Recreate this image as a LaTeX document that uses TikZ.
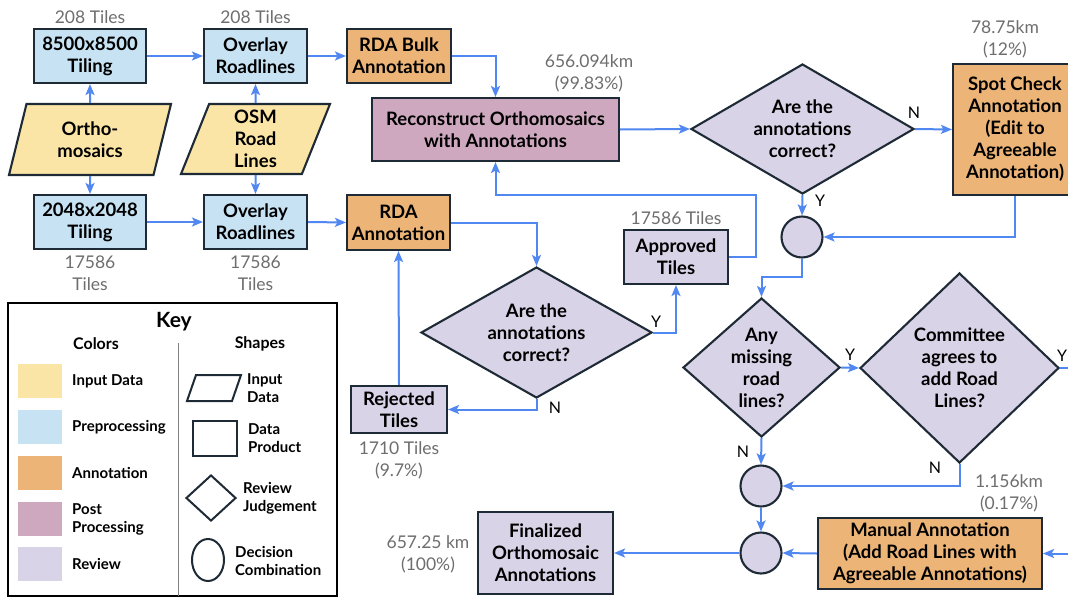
\documentclass[tikz,border=0pt]{standalone}
\usepackage{fontspec}
\setmainfont{Lato}
\usetikzlibrary{shapes.geometric,arrows.meta}
\definecolor{inp}{HTML}{FAE5A6}
\definecolor{pre}{HTML}{C6E2F3}
\definecolor{ann}{HTML}{ECB476}
\definecolor{post}{HTML}{CEA8BE}
\definecolor{rev}{HTML}{D8D3E6}
\definecolor{bord}{HTML}{1E2B36}
\definecolor{flow}{HTML}{5087F0}
\definecolor{note}{HTML}{6E6E6E}
\begin{document}
\begin{tikzpicture}[x=1pt,y=-1pt,
  base/.style={draw=bord,line width=2.1pt,align=center,inner sep=0pt,font=\bfseries\fontsize{18.5}{22}\selectfont,text=black},
  box/.style={base,rectangle},
  para/.style={base,trapezium,trapezium left angle=64,trapezium right angle=116,trapezium stretches body},
  dia/.style={base,diamond,inner sep=-30pt},
  dot/.style={base,circle,minimum size=41pt,fill=rev},
  arr/.style={draw=flow,line width=2pt,-{Stealth[length=11pt,width=9pt,inset=2.5pt]}},
  flowline/.style={draw=flow,line width=2pt},
  num/.style={align=center,text=note,font=\fontsize{17.5}{22}\selectfont,inner sep=0pt},
  yn/.style={font=\fontsize{16}{18}\selectfont,text=black,inner sep=0pt},
  keylab/.style={anchor=west,align=left,inner sep=0pt,font=\bfseries\fontsize{15}{18}\selectfont},
  swatch/.style={rectangle,minimum width=44pt,minimum height=34pt,inner sep=0pt},
  keyshape/.style={draw=bord,line width=2pt}
]
\useasboundingbox (0,0) rectangle (1068,597);
\clip (0,0) rectangle (1068,597);
\fill[white] (0,0) rectangle (1068,597);

% ---- left preprocessing ----
\node[box,fill=pre,minimum width=112pt,minimum height=54pt] (t85) at (90,56) {8500x8500\\Tiling};
\node[box,fill=pre,minimum width=103pt,minimum height=54pt] (ov1) at (255.5,56) {Overlay\\Roadlines};
\node[box,fill=ann,minimum width=104pt,minimum height=54pt] (bulk) at (399,56) {RDA Bulk\\Annotation};
\node[para,fill=inp,minimum width=162pt,minimum height=71pt] (ortho) at (90,139.5) {Ortho-\\mosaics};
\node[para,fill=inp,minimum width=149pt,minimum height=70pt] (osm) at (255.5,139) {OSM\\Road\\Lines};
\node[box,fill=pre,minimum width=112pt,minimum height=54pt] (t20) at (90,222) {2048x2048\\Tiling};
\node[box,fill=pre,minimum width=103pt,minimum height=54pt] (ov2) at (255.5,222) {Overlay\\Roadlines};
\node[box,fill=ann,minimum width=103pt,minimum height=55pt] (rda) at (398.5,222.5) {RDA\\Annotation};

\node[num] at (90,17) {208 Tiles};
\node[num] at (255.5,17) {208 Tiles};
\node[num] at (90,273) {17586\\Tiles};
\node[num] at (255.5,273) {17586\\Tiles};

% ---- middle ----
\node[box,fill=post,minimum width=247pt,minimum height=63pt] (recon) at (495.5,129.5) {Reconstruct Orthomosaics\\with Annotations};
\node[num] at (589,73) {656.094km\\(99.83\%)};
\node[box,fill=rev,minimum width=104pt,minimum height=54pt] (appr) at (676,257) {Approved\\Tiles};
\node[num] at (676,218) {17586 Tiles};
\node[dia,fill=rev,minimum width=231pt,minimum height=131pt] (d2) at (536.5,332.5) {Are the\\annotations\\correct?};
\node[box,fill=rev,minimum width=96pt,minimum height=47pt] (rej) at (399,409.5) {Rejected\\Tiles};
\node[num] at (399,460) {1710 Tiles\\(9.7\%)};
\node[box,fill=rev,minimum width=135pt,minimum height=82pt] (fin) at (545.5,553) {Finalized\\Orthomosaic\\Annotations};
\node[num] at (428,554) {657.25 km\\(100\%)};

% ---- right ----
\node[dia,fill=rev,minimum width=223pt,minimum height=130pt] (d1) at (802.5,129) {Are the\\annotations\\correct?};
\node[box,fill=ann,minimum width=124pt,minimum height=131pt] (spot) at (1015,129.5) {Spot Check\\Annotation\\(Edit to\\Agreeable\\Annotation)};
\node[num] at (1005,39) {78.75km\\(12\%)};
\node[dot] (c1) at (802,237) {};
\node[dia,fill=rev,minimum width=157pt,minimum height=139pt] (miss) at (761.5,367.5) {Any\\missing\\road\\lines?};
\node[dia,fill=rev,minimum width=199pt,minimum height=190pt] (comm) at (959.5,368) {Committee\\agrees to\\add Road\\Lines?};
\node[dot] (c2) at (761,486) {};
\node[dot] (c3) at (761,553) {};
\node[box,fill=ann,minimum width=224pt,minimum height=71pt] (man) at (930,553.5) {Manual Annotation\\(Add Road Lines with\\Agreeable Annotations)};
\node[num] at (1009,493) {1.156km\\(0.17\%)};

\coordinate (a1) at (756,195);
\coordinate (k1) at (802,277);
\coordinate (e1) at (1068,368);
\coordinate (e2) at (1068,553.5);

% ---- connectors ----
\draw[arr] (ortho.north) -- (t85.south);
\draw[arr] (ortho.south) -- (t20.north);
\draw[arr] (osm.north) -- (ov1.south);
\draw[arr] (osm.south) -- (ov2.north);
\draw[arr] (t85.east) -- (ov1.west);
\draw[arr] (ov1.east) -- (bulk.west);
\draw[arr] (t20.east) -- (ov2.west);
\draw[arr] (ov2.east) -- (rda.west);
\draw[arr] (bulk.east) -| (recon.north);
\draw[arr] (recon.east) -- (d1.west);
\draw[arr] (d1.east) -- (spot.west);
\draw[arr] (d1.south) -- (c1.north);
\draw[arr] (spot.south) |- (c1.east);
\draw[arr] (appr.east) -| (a1) -| (recon.south);
\draw[arr] (c1.south) -- (k1) -| (miss.north);
\draw[arr] (rda.east) -| (d2.north);
\draw[arr] (d2.east) -| (appr.south);
\draw[arr] (d2.south) |- (rej.east);
\draw[arr] (rej.north) -- (rda.south);
\draw[arr] (miss.east) -- (comm.west);
\draw[flowline] (comm.east) -- (e1);
\draw[arr] (miss.south) -- (c2.north);
\draw[arr] (comm.south) |- (c2.east);
\draw[arr] (c2.south) -- (c3.north);
\draw[arr] (e2) -- (man.east);
\draw[arr] (man.west) -- (c3.east);
\draw[arr] (c3.west) -- (fin.east);

\node[yn] at (914,113) {N};
\node[yn] at (820,201) {Y};
\node[yn] at (656,322) {Y};
\node[yn] at (555,408) {N};
\node[yn] at (850,355) {Y};
\node[yn] at (1062,356) {Y};
\node[yn] at (743,452) {N};
\node[yn] at (935,468) {N};

% ---- key ----
\node[draw=black,line width=2.5pt,rectangle,minimum width=329pt,minimum height=293pt,inner sep=0pt] (key) at (172.5,449.5) {};
\node[font=\bfseries\fontsize{21}{24}\selectfont,inner sep=0pt] (kt) at (174,322) {Key};
\node[font=\bfseries\fontsize{16}{18}\selectfont,inner sep=0pt] (kc) at (96,344) {Colors};
\node[font=\bfseries\fontsize{16}{18}\selectfont,inner sep=0pt] (ks) at (260,344) {Shapes};
\draw[gray,line width=1pt] (178,343) -- (178,596);
\node[swatch,fill=inp] (s1) at (40,381) {};
\node[swatch,fill=pre] (s2) at (40,427) {};
\node[swatch,fill=ann] (s3) at (40,473) {};
\node[swatch,fill=post] (s4) at (40,519) {};
\node[swatch,fill=rev] (s5) at (40,564) {};
\node[keylab] at (72,381) {Input Data};
\node[keylab] at (72,427) {Preprocessing};
\node[keylab] at (72,473) {Annotation};
\node[keylab] at (72,519) {Post\\Processing};
\node[keylab] at (72,564) {Review};
\draw[keyshape] (187,401) -- (232,401) -- (241,375) -- (196,375) -- cycle;
\node[keyshape,rectangle,minimum width=44pt,minimum height=35pt,inner sep=0pt] (kr) at (215,438.5) {};
\node[keyshape,diamond,minimum width=50pt,minimum height=46pt,inner sep=0pt] (kd) at (211,498) {};
\node[keyshape,ellipse,minimum width=32pt,minimum height=42pt,inner sep=0pt] (ke) at (208,560) {};
\node[keylab] at (247,388) {Input\\Data};
\node[keylab] at (248,438) {Data\\Product};
\node[keylab] at (243,498) {Review\\Judgement};
\node[keylab] at (235,561) {Decision\\Combination};
\end{tikzpicture}
\end{document}
